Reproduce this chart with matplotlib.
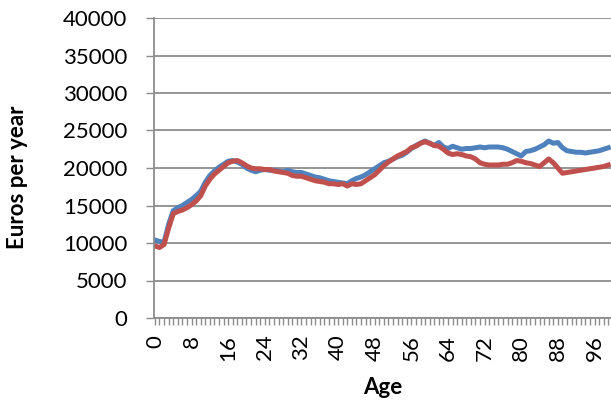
import matplotlib.pyplot as plt

ages = list(range(100))

# income by age, two series
blue_income = [
    10400, 10200, 10100, 12500, 14300, 14700, 15000, 15400, 15800, 16300,
    16900, 18100, 19000, 19600, 20100, 20500, 20900, 21000, 20800, 20500,
    20000, 19700, 19500, 19700, 19800, 19700, 19700, 19600, 19500, 19700,
    19500, 19400, 19400, 19200, 19000, 18800, 18700, 18500, 18300, 18200,
    18100, 18000, 17900, 18300, 18600, 18800, 19100, 19500, 19900, 20300,
    20700, 20900, 21200, 21500, 21700, 22100, 22600, 23000, 23300, 23600,
    23300, 23000, 23400, 22800, 22600, 22900, 22700, 22500, 22600, 22600,
    22700, 22800, 22700, 22800, 22800, 22800, 22700, 22500, 22200, 21900,
    21600, 22200, 22300, 22500, 22800, 23100, 23600, 23300, 23400, 22700,
    22300, 22200, 22100, 22100, 22000, 22100, 22200, 22300, 22500, 22700,
]
red_income = [
    9600, 9400, 9800, 12000, 13900, 14200, 14400, 14700, 15100, 15600,
    16300, 17600, 18500, 19200, 19700, 20200, 20700, 20900, 21000, 20700,
    20300, 20000, 19900, 19900, 19800, 19800, 19600, 19500, 19400, 19300,
    19000, 18900, 18900, 18700, 18500, 18300, 18200, 18100, 17900, 17900,
    17800, 17900, 17600, 17900, 17800, 17900, 18300, 18700, 19100, 19700,
    20300, 20800, 21200, 21600, 21900, 22200, 22700, 22900, 23300, 23500,
    23300, 23000, 22900, 22500, 22000, 21800, 21900, 21800, 21600, 21500,
    21200, 20700, 20500, 20400, 20400, 20400, 20500, 20500, 20700, 21000,
    20900, 20700, 20600, 20400, 20200, 20700, 21200, 20700, 20000, 19300,
    19400, 19500, 19600, 19700, 19800, 19900, 20000, 20100, 20200, 20400,
]
y_ticks = [0, 5000, 10000, 15000, 20000, 25000, 30000, 35000, 40000]

plt.rcParams['font.family'] = ['Lato', 'DejaVu Sans']

fig = plt.figure(figsize=(6.11, 4.03), dpi=100)
ax = fig.add_axes([154 / 611, 85 / 403, 457 / 611, 300 / 403])

grid_col = '#8c8c8c'
ax.plot(ages, blue_income, color='#4F81BD', lw=3.6, solid_joinstyle='round')
ax.plot(ages, red_income, color='#C0504D', lw=3.6, solid_joinstyle='round')

ax.set_ylim(0, 40000)
ax.set_xlim(-0.2, 99.6)
ax.set_yticks(y_ticks)
ax.set_yticklabels([str(v) for v in y_ticks], fontsize=16)
ax.set_xticks(ages)
ax.set_xticklabels([str(a) if a % 8 == 0 else '' for a in ages],
                   rotation=90, fontsize=16)
ax.yaxis.grid(True, color=grid_col, lw=1.3)
ax.set_axisbelow(True)

for side in ['top', 'right']:
    ax.spines[side].set_visible(False)
for side in ['left', 'bottom']:
    ax.spines[side].set_color(grid_col)
    ax.spines[side].set_linewidth(1.3)

ax.tick_params(axis='y', length=6, color=grid_col, width=1, pad=13)
ax.tick_params(axis='x', length=5, color=grid_col, width=1, pad=7)

ax.set_xlabel('Age', fontsize=16, fontweight='bold', labelpad=12)
ax.set_ylabel('Euros per year', fontsize=16, fontweight='bold')
# y title sits a little below the middle of the axis
ax.yaxis.set_label_coords(-0.275, 0.47)

fig.savefig('out.png', dpi=100)
